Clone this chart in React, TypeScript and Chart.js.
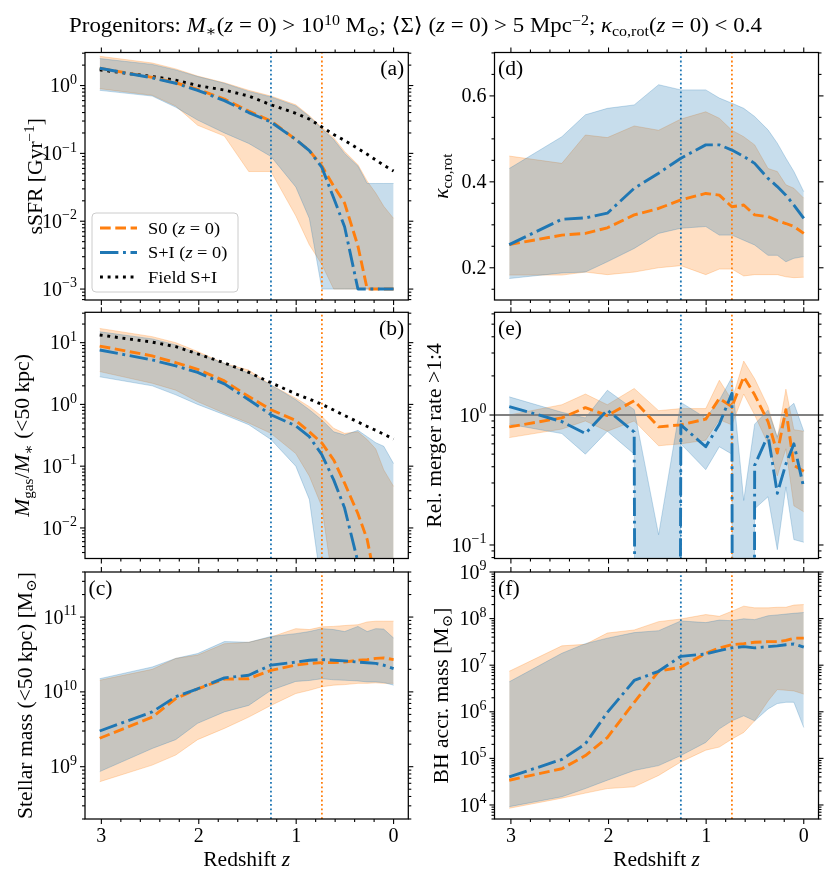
import React, { useEffect, useRef } from "react";
import { Chart, registerables } from "chart.js";

Chart.register(...registerables);

const FONT = '"Liberation Serif", "Times New Roman", "DejaVu Serif", serif';
const FS = 20; // tick / axis label size
const FS_LEG = 17; // legend size
const SX = 1.08; // horizontal stretch for word labels (closer to Computer Modern widths)
const C0 = "#1f77b4";
const C1 = "#ff7f0e";
const C0RGB = "31,119,180";
const C1RGB = "255,127,14";
const BAND_ALPHA = 0.25;
// a zero value on a log axis (drawn as a drop off the bottom edge)
const ZERO = 1e-60;

// ---------------- data ----------------
const Z = [3.017, 2.478, 2.237, 2.012, 1.737, 1.487, 1.259, 1.004, 0.865, 0.736, 0.615, 0.503, 0.366, 0.271, 0.183, 0.101, 0.0];
const Z_MARK_SI = 1.259;
const Z_MARK_S0 = 0.736;
const X_RANGE = [-0.151, 3.168];
const X_MAJOR = [0, 1, 2, 3];
const X_MINOR = [0.2, 0.4, 0.6, 0.8, 1.2, 1.4, 1.6, 1.8, 2.2, 2.4, 2.6, 2.8];

// (a) sSFR
const SSFR_S0_MED = [1.8, 1.32, 1.1, 0.88, 0.63, 0.42, 0.3, 0.16, 0.11, 0.065, 0.033, 0.0185, 0.0043, 0.001, 0.001, 0.001, 0.001];
const SSFR_S0_HI = [2.7, 2.15, 1.76, 1.38, 1.1, 0.85, 0.7, 0.52, 0.36, 0.24, 0.17, 0.107, 0.068, 0.039, 0.026, 0.0166, 0.011];
const SSFR_S0_LO = [0.9, 0.72, 0.5, 0.26, 0.18, 0.054, 0.054, 0.012, 0.0045, 0.0023, 0.001, 0.001, 0.001, 0.001, 0.001, 0.001, 0.001];
const SSFR_SI_MED = [1.8, 1.3, 1.08, 0.85, 0.6, 0.4, 0.29, 0.16, 0.11, 0.062, 0.022, 0.0083, 0.001, 0.001, 0.001, 0.001, 0.001];
const SSFR_SI_HI = [2.5, 2.05, 1.7, 1.36, 1.08, 0.82, 0.68, 0.5, 0.35, 0.23, 0.16, 0.1, 0.065, 0.036, 0.036, 0.036, 0.036];
const SSFR_SI_LO = [0.85, 0.7, 0.48, 0.31, 0.2, 0.14, 0.09, 0.032, 0.011, 0.001, 0.001, 0.001, 0.001, 0.001, 0.001, 0.001, 0.001];
const SSFR_FIELD = [1.7, 1.36, 1.2, 1.0, 0.86, 0.7, 0.52, 0.39, 0.32, 0.245, 0.19, 0.155, 0.118, 0.097, 0.08, 0.067, 0.055];
const SSFR_TICKS = [1e-3, 1e-2, 1e-1, 1];

// (b) gas fraction
const GAS_S0_MED = [8.8, 6.1, 4.75, 3.7, 2.4, 1.34, 0.82, 0.55, 0.36, 0.237, 0.126, 0.053, 0.017, 0.0065, 0.0013, 0.0001, 0.00001];
const GAS_S0_HI = [17, 12.5, 10, 7.2, 4.6, 3.6, 2.07, 1.26, 0.92, 0.64, 0.41, 0.34, 0.36, 0.27, 0.19, 0.087, 0.047];
const GAS_S0_LO = [3.4, 2.2, 1.7, 1.11, 0.72, 0.5, 0.34, 0.16, 0.069, 0.022, 0.001, 0.0001, 0.0001, 0.0001, 0.0001, 0.0001, 0.0001];
const GAS_SI_MED = [7.6, 5.25, 4.2, 3.3, 2.15, 1.19, 0.68, 0.45, 0.3, 0.153, 0.06, 0.021, 0.0028, 0.0001, 0.00001, 0.00001, 0.00001];
const GAS_SI_HI = [15, 11.5, 9.2, 6.7, 4.6, 3.2, 2.07, 1.19, 0.82, 0.56, 0.36, 0.32, 0.38, 0.3, 0.24, 0.21, 0.11];
const GAS_SI_LO = [2.8, 2.0, 1.43, 1.0, 0.68, 0.47, 0.27, 0.1, 0.029, 0.001, 0.0001, 0.0001, 0.0001, 0.0001, 0.0001, 0.0001, 0.0001];
const GAS_FIELD = [13.3, 10.2, 8.6, 6.6, 4.7, 3.3, 2.25, 1.48, 1.22, 1.0, 0.81, 0.66, 0.52, 0.44, 0.38, 0.33, 0.275];
const GAS_TICKS = [1e-2, 1e-1, 1, 10];

// (c) stellar mass
const MSTAR_S0_MED = [2.4e9, 4.6e9, 8.1e9, 1.1e10, 1.48e10, 1.5e10, 1.94e10, 2.28e10, 2.4e10, 2.46e10, 2.46e10, 2.5e10, 2.65e10, 2.7e10, 2.8e10, 2.85e10, 2.7e10];
const MSTAR_S0_HI = [1.43e10, 2.0e10, 2.8e10, 3.1e10, 4.4e10, 4.6e10, 5.4e10, 7.0e10, 6.8e10, 7.4e10, 7.5e10, 7.7e10, 7.9e10, 8.6e10, 8.8e10, 8.8e10, 8.8e10];
const MSTAR_S0_LO = [6.3e8, 1.05e9, 1.43e9, 2.3e9, 3.25e9, 4.6e9, 6.6e9, 9.5e9, 1.05e10, 1.17e10, 1.23e10, 1.25e10, 1.3e10, 1.3e10, 1.32e10, 1.3e10, 1.3e10];
const MSTAR_SI_MED = [3.0e9, 5.4e9, 8.6e9, 1.1e10, 1.54e10, 1.67e10, 2.28e10, 2.5e10, 2.65e10, 2.7e10, 2.65e10, 2.6e10, 2.5e10, 2.45e10, 2.4e10, 2.27e10, 2.05e10];
const MSTAR_SI_HI = [1.5e10, 2.15e10, 2.8e10, 3.25e10, 4.7e10, 4.6e10, 5.5e10, 6.0e10, 6.4e10, 7.0e10, 6.8e10, 6.4e10, 7.5e10, 6.4e10, 7.0e10, 6.9e10, 5.25e10];
const MSTAR_SI_LO = [8.6e8, 1.75e9, 2.3e9, 3.8e9, 5.4e9, 6.6e9, 1.05e10, 1.38e10, 1.42e10, 1.5e10, 1.45e10, 1.43e10, 1.4e10, 1.36e10, 1.36e10, 1.33e10, 1.23e10];
const MSTAR_TICKS = [1e9, 1e10, 1e11];

// (d) kappa_co,rot
const KAPPA_S0_MED = [0.254, 0.276, 0.28, 0.293, 0.323, 0.338, 0.358, 0.373, 0.369, 0.342, 0.346, 0.323, 0.319, 0.31, 0.303, 0.296, 0.28];
const KAPPA_S0_HI = [0.46, 0.443, 0.509, 0.503, 0.53, 0.52, 0.546, 0.563, 0.548, 0.52, 0.505, 0.486, 0.431, 0.424, 0.393, 0.385, 0.362];
const KAPPA_S0_LO = [0.183, 0.183, 0.19, 0.184, 0.19, 0.2, 0.205, 0.184, 0.197, 0.197, 0.181, 0.184, 0.184, 0.184, 0.179, 0.177, 0.178];
const KAPPA_SI_MED = [0.254, 0.313, 0.316, 0.327, 0.385, 0.42, 0.455, 0.486, 0.486, 0.474, 0.459, 0.443, 0.408, 0.389, 0.369, 0.346, 0.315];
const KAPPA_SI_HI = [0.431, 0.505, 0.556, 0.571, 0.579, 0.626, 0.614, 0.614, 0.595, 0.583, 0.571, 0.552, 0.521, 0.49, 0.455, 0.424, 0.377];
const KAPPA_SI_LO = [0.175, 0.188, 0.19, 0.214, 0.245, 0.28, 0.292, 0.296, 0.276, 0.276, 0.264, 0.253, 0.229, 0.229, 0.214, 0.222, 0.226];
const KAPPA_TICKS = [0.2, 0.4, 0.6];
const KAPPA_MINOR = [0.15, 0.25, 0.3, 0.35, 0.45, 0.5, 0.55, 0.65, 0.7];

// (e) relative merger rate
const MERGER_S0_MED = [0.81, 0.95, 1.14, 0.99, 1.29, 0.81, 0.84, 0.93, 1.34, 1.16, 1.97, 1.43, 0.89, 0.51, 1.1, 0.41, 0.37];
const MERGER_S0_HI = [1.0, 1.2, 1.45, 1.2, 1.6, 1.08, 1.12, 1.12, 1.85, 1.3, 2.6, 1.9, 1.16, 0.66, 1.58, 0.77, 0.75];
const MERGER_S0_LO = [0.67, 0.78, 0.9, 0.75, 0.9, 0.58, 0.6, 0.64, 0.92, 0.84, 1.45, 1.0, 0.6, 0.34, 0.55, 0.2, 0.18];
const MERGER_SI_MED = [1.16, 0.89, 0.72, 1.09, 0.74, ZERO, 0.84, 0.57, 0.85, 1.47, ZERO, 0.41, 0.7, 0.25, 0.42, 0.6, 0.275];
const MERGER_SI_HI = [1.38, 1.05, 0.95, 1.55, 1.1, 0.12, 1.25, 0.95, 1.3, 1.95, 0.22, 0.85, 1.09, 0.68, 1.09, 1.23, 0.75];
const MERGER_SI_LO = [0.85, 0.72, 0.5, 0.75, 0.5, ZERO, 0.6, 0.38, 0.57, 0.5, ZERO, 0.19, 0.235, 0.092, 0.28, 0.11, 0.105];
const MERGER_REF = 1;
const MERGER_TICKS = [0.1, 1];

// (f) BH accreted mass
const BH_S0_MED = [3.4e4, 6e4, 1.15e5, 2.8e5, 1.6e6, 7.4e6, 9.1e6, 1.8e7, 2.35e7, 2.75e7, 2.9e7, 3.1e7, 3.2e7, 3.2e7, 3.4e7, 3.8e7, 3.8e7];
const BH_S0_HI = [7.4e6, 2.6e7, 2.8e7, 4.9e7, 5.7e7, 8.6e7, 9.8e7, 1.22e8, 1.12e8, 1.44e8, 1.85e8, 1.7e8, 1.7e8, 1.75e8, 1.75e8, 1.95e8, 2.0e8];
const BH_S0_LO = [8.5e3, 1.4e4, 1.8e4, 2.25e4, 2.45e4, 4.3e4, 8.4e4, 1.5e5, 1.75e5, 2.6e5, 3.6e5, 6.4e5, 1.7e6, 3e6, 2.9e6, 2.8e6, 2.4e6];
const BH_SI_MED = [4e4, 9.5e4, 2.05e5, 9.7e5, 4.7e6, 7.4e6, 1.55e7, 1.74e7, 2.05e7, 2.35e7, 2.5e7, 2.35e7, 2.5e7, 2.6e7, 2.75e7, 2.85e7, 2.45e7];
const BH_SI_HI = [4.4e6, 1.8e7, 2.9e7, 3.8e7, 5e7, 5.5e7, 8.9e7, 8.2e7, 9.3e7, 9e7, 9.9e7, 9.5e7, 1.15e8, 1.2e8, 1.25e8, 1.3e8, 1.35e8];
const BH_SI_LO = [9.2e3, 1.5e4, 2.25e4, 3.4e4, 5.5e4, 7e4, 1.15e5, 2.2e5, 4.3e5, 6.4e5, 8.2e5, 6.4e5, 1.15e6, 1.5e6, 1.6e6, 1.6e6, 4.6e5];
const BH_TICKS = [1e4, 1e5, 1e6, 1e7, 1e8, 1e9];

// ---------------- text helpers ----------------
type Seg = { t: string; i?: boolean; s?: "sup" | "sub" };

function segFont(seg: Seg, size: number) {
  const sz = seg.s ? size * 0.7 : size;
  return `${seg.i ? "italic " : ""}${sz}px ${FONT}`;
}
function richWidth(ctx: CanvasRenderingContext2D, segs: Seg[], size: number) {
  let w = 0;
  for (const s of segs) {
    ctx.font = segFont(s, size);
    w += ctx.measureText(s.t).width;
  }
  return w;
}
function drawRich(
  ctx: CanvasRenderingContext2D, segs: Seg[], x: number, y: number, size: number,
  align: "left" | "center" | "right", sx = 1,
) {
  const w = richWidth(ctx, segs, size) * sx;
  const x0 = align === "center" ? x - w / 2 : align === "right" ? x - w : x;
  ctx.save();
  ctx.translate(x0, y);
  ctx.scale(sx, 1);
  ctx.textAlign = "left";
  ctx.textBaseline = "alphabetic";
  let cx = 0;
  for (const s of segs) {
    ctx.font = segFont(s, size);
    const dy = s.s === "sup" ? -0.42 * size : s.s === "sub" ? 0.22 * size : 0;
    ctx.fillText(s.t, cx, dy);
    cx += ctx.measureText(s.t).width;
  }
  ctx.restore();
}
function logLabel(v: number): Seg[] {
  const k = Math.round(Math.log10(v));
  return [{ t: "10" }, { t: k < 0 ? "\u2212" + Math.abs(k) : String(k), s: "sup" }];
}
function logMinor(min: number, max: number) {
  const out: number[] = [];
  for (let k = Math.floor(Math.log10(min)); k <= Math.floor(Math.log10(max)); k++) {
    for (let m = 2; m <= 9; m++) {
      const v = m * Math.pow(10, k);
      if (v >= min && v <= max) out.push(v);
    }
  }
  return out;
}

// ---------------- layout (figure pixels) ----------------
const W = 831;
const H = 883;
const COLS = [
  { left: 85, right: 408.3 },
  { left: 494.5, right: 818.5 },
];
const ROWS = [
  { top: 52.5, bottom: 300 },
  { top: 312.3, bottom: 558.5 },
  { top: 572, bottom: 819 },
];

const DASH_S0 = [10.7, 4.6];
const DASH_SI = [18.4, 4.6, 2.9, 4.6];
const DASH_FIELD = [2.9, 4.75];
const LW = 2.9;

interface PanelSpec {
  id: string;
  col: number;
  row: number;
  log: boolean;
  yMin: number;
  yMax: number;
  s0: number[][];
  si: number[][];
  field?: number[];
  ref?: number;
  letter: string;
  letterRight: boolean;
  ylabel: Seg[];
  ylabelX: number;
  yTicks: number[];
  yMinor: number[];
  xlabels: boolean;
  legend: boolean;
}

const PANELS: PanelSpec[] = [
  {
    id: "a", col: 0, row: 0, log: true, yMin: 6.9e-4, yMax: 3.07,
    s0: [SSFR_S0_MED, SSFR_S0_HI, SSFR_S0_LO], si: [SSFR_SI_MED, SSFR_SI_HI, SSFR_SI_LO], field: SSFR_FIELD,
    letter: "(a)", letterRight: true,
    ylabel: [{ t: "sSFR [Gyr" }, { t: "\u22121", s: "sup" }, { t: "]" }], ylabelX: 42,
    yTicks: SSFR_TICKS, yMinor: logMinor(6.9e-4, 3.07), xlabels: false, legend: true,
  },
  {
    id: "b", col: 0, row: 1, log: true, yMin: 3.2e-3, yMax: 31,
    s0: [GAS_S0_MED, GAS_S0_HI, GAS_S0_LO], si: [GAS_SI_MED, GAS_SI_HI, GAS_SI_LO], field: GAS_FIELD,
    letter: "(b)", letterRight: true,
    ylabel: [{ t: "M", i: true }, { t: "gas", s: "sub" }, { t: "/" }, { t: "M", i: true }, { t: "\u2217", s: "sub" }, { t: " (<50 kpc)" }], ylabelX: 29,
    yTicks: GAS_TICKS, yMinor: logMinor(3.2e-3, 31), xlabels: false, legend: false,
  },
  {
    id: "c", col: 0, row: 2, log: true, yMin: 2e8, yMax: 4e11,
    s0: [MSTAR_S0_MED, MSTAR_S0_HI, MSTAR_S0_LO], si: [MSTAR_SI_MED, MSTAR_SI_HI, MSTAR_SI_LO],
    letter: "(c)", letterRight: false,
    ylabel: [{ t: "Stellar mass (<50 kpc) [M" }, { t: "\u2299", s: "sub" }, { t: "]" }], ylabelX: 32,
    yTicks: MSTAR_TICKS, yMinor: logMinor(2e8, 4e11), xlabels: true, legend: false,
  },
  {
    id: "d", col: 1, row: 0, log: false, yMin: 0.125, yMax: 0.701,
    s0: [KAPPA_S0_MED, KAPPA_S0_HI, KAPPA_S0_LO], si: [KAPPA_SI_MED, KAPPA_SI_HI, KAPPA_SI_LO],
    letter: "(d)", letterRight: false,
    ylabel: [{ t: "\u03ba", i: true }, { t: "co,rot", s: "sub" }], ylabelX: 448,
    yTicks: KAPPA_TICKS, yMinor: KAPPA_MINOR, xlabels: false, legend: false,
  },
  {
    id: "e", col: 1, row: 1, log: true, yMin: 0.0787, yMax: 6.17,
    s0: [MERGER_S0_MED, MERGER_S0_HI, MERGER_S0_LO], si: [MERGER_SI_MED, MERGER_SI_HI, MERGER_SI_LO], ref: MERGER_REF,
    letter: "(e)", letterRight: false,
    ylabel: [{ t: "Rel. merger rate >1:4" }], ylabelX: 441,
    yTicks: MERGER_TICKS, yMinor: logMinor(0.0787, 6.17), xlabels: false, legend: false,
  },
  {
    id: "f", col: 1, row: 2, log: true, yMin: 5e3, yMax: 1e9,
    s0: [BH_S0_MED, BH_S0_HI, BH_S0_LO], si: [BH_SI_MED, BH_SI_HI, BH_SI_LO],
    letter: "(f)", letterRight: false,
    ylabel: [{ t: "BH accr. mass [M" }, { t: "\u2299", s: "sub" }, { t: "]" }], ylabelX: 447.5,
    yTicks: BH_TICKS, yMinor: logMinor(5e3, 1e9), xlabels: true, legend: false,
  },
];

const XLABEL: Seg[] = [{ t: "Redshift " }, { t: "z", i: true }];
const LEGEND_ITEMS = [
  { color: C1, dash: DASH_S0, label: [{ t: "S0 (" }, { t: "z", i: true }, { t: " = 0)" }] as Seg[] },
  { color: C0, dash: DASH_SI, label: [{ t: "S+I (" }, { t: "z", i: true }, { t: " = 0)" }] as Seg[] },
  { color: "#000", dash: DASH_FIELD, label: [{ t: "Field S+I" }] as Seg[] },
];

// ---------------- datasets ----------------
const pts = (ys: number[]) => Z.map((x, i) => ({ x, y: ys[i] }));

function lineDs(ys: number[], color: string, dash: number[], order: number) {
  return {
    data: pts(ys), borderColor: color, borderDash: dash, borderWidth: LW, pointRadius: 0,
    fill: false, tension: 0, order, borderJoinStyle: "round", borderCapStyle: "butt",
  };
}
function bandDs(hi: number[], lo: number[], rgb: string, order: number) {
  const c = `rgba(${rgb},${BAND_ALPHA})`;
  return [
    { data: pts(hi), borderColor: c, backgroundColor: c, borderWidth: 1, pointRadius: 0, fill: "+1", tension: 0, order },
    { data: pts(lo), borderColor: c, backgroundColor: c, borderWidth: 1, pointRadius: 0, fill: false, tension: 0, order },
  ];
}
function vlineDs(z: number, spec: PanelSpec, color: string) {
  return {
    data: [{ x: z, y: spec.yMin }, { x: z, y: spec.yMax }], borderColor: color, borderDash: [1.8, 2.6],
    borderWidth: 1.8, pointRadius: 0, fill: false, order: 3,
  };
}

function buildDatasets(spec: PanelSpec) {
  const ds: any[] = [];
  ds.push(lineDs(spec.si[0], C0, DASH_SI, 0));
  ds.push(lineDs(spec.s0[0], C1, DASH_S0, 1));
  if (spec.field) ds.push(lineDs(spec.field, "#000", DASH_FIELD, 2));
  ds.push(vlineDs(Z_MARK_SI, spec, C0));
  ds.push(vlineDs(Z_MARK_S0, spec, C1));
  if (spec.ref !== undefined) {
    ds.push({
      data: [{ x: X_RANGE[0], y: spec.ref }, { x: X_RANGE[1], y: spec.ref }], borderColor: "#808080",
      borderWidth: 2, pointRadius: 0, fill: false, order: 4,
    });
  }
  ds.push(...bandDs(spec.si[1], spec.si[2], C0RGB, 5));
  ds.push(...bandDs(spec.s0[1], spec.s0[2], C1RGB, 6));
  return ds;
}

// ---------------- decoration plugin ----------------
const MAJ = 5;
const MIN = 3;

function makeDecor(spec: PanelSpec) {
  return {
    id: "decor" + spec.id,
    afterDraw(chart: any) {
      const ctx: CanvasRenderingContext2D = chart.ctx;
      const a = chart.chartArea;
      const xs = chart.scales.x;
      const ys = chart.scales.y;
      ctx.save();
      ctx.setLineDash([]);
      ctx.strokeStyle = "#000";
      ctx.lineWidth = 1.1;
      const seg = (x1: number, y1: number, x2: number, y2: number) => {
        ctx.beginPath();
        ctx.moveTo(x1, y1);
        ctx.lineTo(x2, y2);
        ctx.stroke();
      };
      for (const v of X_MAJOR) {
        const p = xs.getPixelForValue(v);
        seg(p, a.bottom, p, a.bottom + MAJ);
        seg(p, a.top, p, a.top - MAJ);
      }
      for (const v of X_MINOR) {
        const p = xs.getPixelForValue(v);
        seg(p, a.bottom, p, a.bottom + MIN);
        seg(p, a.top, p, a.top - MIN);
      }
      for (const v of spec.yTicks) {
        const p = ys.getPixelForValue(v);
        seg(a.left - MAJ, p, a.left, p);
        seg(a.right, p, a.right + MAJ, p);
      }
      for (const v of spec.yMinor) {
        const p = ys.getPixelForValue(v);
        seg(a.left - MIN, p, a.left, p);
        seg(a.right, p, a.right + MIN, p);
      }
      ctx.lineWidth = 1.25;
      ctx.strokeRect(a.left, a.top, a.right - a.left, a.bottom - a.top);

      ctx.fillStyle = "#000";
      for (const v of spec.yTicks) {
        const p = ys.getPixelForValue(v);
        const segs: Seg[] = spec.log ? logLabel(v) : [{ t: v.toFixed(1) }];
        drawRich(ctx, segs, a.left - 8, p + 0.33 * FS, FS, "right");
      }
      if (spec.xlabels) {
        for (const v of X_MAJOR) {
          drawRich(ctx, [{ t: String(v) }], xs.getPixelForValue(v), a.bottom + 23, FS, "center");
        }
        drawRich(ctx, XLABEL, (a.left + a.right) / 2, a.bottom + 47, FS, "center", SX);
      }
      ctx.save();
      ctx.translate(spec.ylabelX, (a.top + a.bottom) / 2);
      ctx.rotate(-Math.PI / 2);
      drawRich(ctx, spec.ylabel, 0, 0, FS, "center", SX);
      ctx.restore();

      const letter: Seg[] = [{ t: spec.letter }];
      if (spec.letterRight) drawRich(ctx, letter, a.right - 4, a.top + 22.5, FS, "right", SX);
      else drawRich(ctx, letter, a.left + 3.5, a.top + 22.5, FS, "left", SX);

      if (spec.legend) {
        const bx = a.left + 7, bw = 146, bh = 79, by = a.bottom - 8 - bh, r = 4;
        ctx.beginPath();
        ctx.moveTo(bx + r, by);
        ctx.arcTo(bx + bw, by, bx + bw, by + bh, r);
        ctx.arcTo(bx + bw, by + bh, bx, by + bh, r);
        ctx.arcTo(bx, by + bh, bx, by, r);
        ctx.arcTo(bx, by, bx + bw, by, r);
        ctx.closePath();
        ctx.fillStyle = "rgba(255,255,255,0.8)";
        ctx.fill();
        ctx.strokeStyle = "#cccccc";
        ctx.lineWidth = 1;
        ctx.stroke();
        LEGEND_ITEMS.forEach((it, i) => {
          const y = by + 15 + i * 24.5;
          ctx.save();
          ctx.strokeStyle = it.color;
          ctx.lineWidth = LW;
          ctx.lineCap = "butt";
          ctx.setLineDash(it.dash);
          seg(bx + 8, y, bx + 45, y);
          ctx.restore();
          ctx.fillStyle = "#000";
          drawRich(ctx, it.label, bx + 56, y + 0.33 * FS_LEG, FS_LEG, "left", SX);
        });
      }
      ctx.restore();
    },
  };
}

// ---------------- components ----------------
function Panel({ spec }: { spec: PanelSpec }) {
  const ref = useRef<HTMLCanvasElement>(null);
  useEffect(() => {
    const col = COLS[spec.col];
    const row = ROWS[spec.row];
    const chart = new Chart(ref.current as HTMLCanvasElement, {
      type: "line",
      data: { datasets: buildDatasets(spec) },
      options: {
        responsive: false,
        animation: false,
        devicePixelRatio: 1,
        events: [],
        layout: { padding: { left: col.left, right: W - col.right, top: row.top, bottom: H - row.bottom } },
        plugins: { legend: { display: false }, tooltip: { enabled: false }, title: { display: false } },
        scales: {
          x: { type: "linear", min: X_RANGE[0], max: X_RANGE[1], reverse: true, display: false },
          y: { type: spec.log ? "logarithmic" : "linear", min: spec.yMin, max: spec.yMax, display: false },
        },
      } as any,
      plugins: [makeDecor(spec)],
    });
    return () => chart.destroy();
  }, [spec]);
  return (
    <canvas
      ref={ref}
      width={W}
      height={H}
      style={{ position: "absolute", left: 0, top: 0, width: W, height: H }}
    />
  );
}

const supStyle: React.CSSProperties = { fontSize: "0.7em", verticalAlign: "0.5em", lineHeight: 0 };
const subStyle: React.CSSProperties = { fontSize: "0.7em", verticalAlign: "-0.25em", lineHeight: 0 };

export default function App() {
  return (
    <div style={{ position: "absolute", left: 0, top: 0, width: W, height: H, background: "#fff", overflow: "hidden" }}>
      {PANELS.map((p) => (
        <Panel key={p.id} spec={p} />
      ))}
      <div
        style={{
          position: "absolute", left: 0, top: 10, width: W, textAlign: "center", fontFamily: FONT,
          fontSize: 21, lineHeight: "30px", color: "#000", whiteSpace: "nowrap",
          transform: "scaleX(1.09)", transformOrigin: "416px 50%",
        }}
      >
        Progenitors: <i>M</i><span style={subStyle}>∗</span>(<i>z</i> = 0) &gt; 10<span style={supStyle}>10</span> M
        <span style={subStyle}>⊙</span>; ⟨Σ⟩ (<i>z</i> = 0) &gt; 5 Mpc<span style={supStyle}>−2</span>;{" "}
        <i>κ</i><span style={subStyle}>co,rot</span>(<i>z</i> = 0) &lt; 0.4
      </div>
    </div>
  );
}
